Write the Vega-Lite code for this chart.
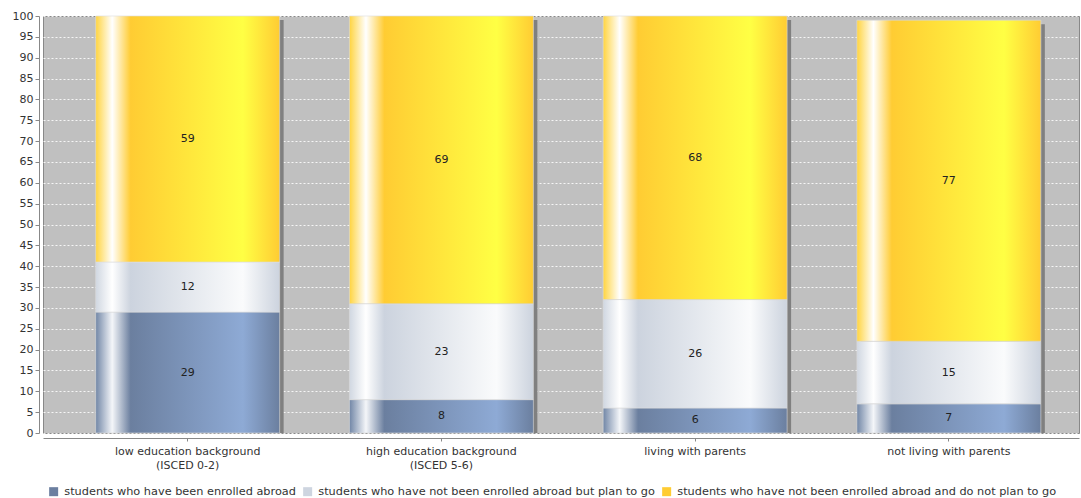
{
  "$schema": "https://vega.github.io/schema/vega-lite/v6.json",
  "autosize": "none",
  "width": 1036,
  "height": 417,
  "padding": {"left": 43, "top": 16, "right": 2, "bottom": 65},
  "background": "#ffffff",
  "title": {"text": "(in %)", "fontSize": 13, "fontWeight": "bold", "font": "DejaVu Sans", "frame": "group", "anchor": "middle", "offset": 11, "dx": -6, "color": "#000000"},
  "config": {
    "view": {"fill": "#c0c0c0", "stroke": "#888888", "strokeWidth": 1},
    "font": "DejaVu Sans",
    "axis": {"labelFont": "DejaVu Sans", "labelFontSize": 11, "labelColor": "#333333", "domainColor": "#888888", "tickColor": "#888888", "titleFont": "DejaVu Sans"},
    "legend": {"labelFont": "DejaVu Sans", "labelFontSize": 11.3, "labelColor": "#333333"}
  },
  "data": {
    "values": [
      {"group": "low education background (ISCED 0-2)", "series": "students who have been enrolled abroad", "value": 29},
      {"group": "low education background (ISCED 0-2)", "series": "students who have not been enrolled abroad but plan to go", "value": 12},
      {"group": "low education background (ISCED 0-2)", "series": "students who have not been enrolled abroad and do not plan to go", "value": 59},
      {"group": "high education background (ISCED 5-6)", "series": "students who have been enrolled abroad", "value": 8},
      {"group": "high education background (ISCED 5-6)", "series": "students who have not been enrolled abroad but plan to go", "value": 23},
      {"group": "high education background (ISCED 5-6)", "series": "students who have not been enrolled abroad and do not plan to go", "value": 69},
      {"group": "living with parents", "series": "students who have been enrolled abroad", "value": 6},
      {"group": "living with parents", "series": "students who have not been enrolled abroad but plan to go", "value": 26},
      {"group": "living with parents", "series": "students who have not been enrolled abroad and do not plan to go", "value": 68},
      {"group": "not living with parents", "series": "students who have been enrolled abroad", "value": 7},
      {"group": "not living with parents", "series": "students who have not been enrolled abroad but plan to go", "value": 15},
      {"group": "not living with parents", "series": "students who have not been enrolled abroad and do not plan to go", "value": 77}
    ]
  },
  "transform": [
    {"calculate": "indexof(['students who have been enrolled abroad','students who have not been enrolled abroad but plan to go','students who have not been enrolled abroad and do not plan to go'], datum.series)", "as": "ord"},
    {"stack": "value", "groupby": ["group"], "sort": [{"field": "ord", "order": "ascending"}], "as": ["v0", "v1"]},
    {"calculate": "(datum.v0 + datum.v1) / 2", "as": "mid"}
  ],
  "encoding": {
    "x": {
      "field": "group", "type": "nominal", "sort": null,
      "scale": {"paddingInner": 0.275, "paddingOuter": 0.179, "align": 0.58},
      "axis": {"title": null, "labelAngle": 0, "offset": 5, "tickSize": 3, "labelPadding": 4, "labelLineHeight": 14,
               "labelExpr": "split(replace(datum.value, ' (', '|('), '|')", "domainColor": "#888888"}
    }
  },
  "layer": [
    {
      "mark": {"type": "bar", "color": "#808080", "xOffset": 4, "yOffset": 4, "clip": true},
      "encoding": {
        "y": {"aggregate": "sum", "field": "value", "type": "quantitative",
              "scale": {"domain": [0, 100], "nice": false},
              "axis": {"title": null, "values": [0,5,10,15,20,25,30,35,40,45,50,55,60,65,70,75,80,85,90,95,100], "labelOverlap": false,
                       "offset": 4, "tickSize": 4, "labelPadding": 2, "grid": true, "gridColor": "#ffffff", "gridDash": [2, 2], "gridOpacity": 0.85}}
      }
    },
    {
      "mark": {"type": "bar", "stroke": "#dcdcdc", "strokeWidth": 0.6},
      "encoding": {
        "y": {"field": "v1", "type": "quantitative",
              "axis": {"title": null, "values": [0,5,10,15,20,25,30,35,40,45,50,55,60,65,70,75,80,85,90,95,100], "labelOverlap": false,
                       "offset": 4, "tickSize": 4, "labelPadding": 2, "grid": true, "gridColor": "#ffffff", "gridDash": [2, 2], "gridOpacity": 0.85}},
        "y2": {"field": "v0"},
        "fill": {
          "condition": [
            {"test": "datum.series === 'students who have been enrolled abroad'",
             "value": {"gradient": "linear", "x1": 0, "y1": 0, "x2": 1, "y2": 0,
                       "stops": [{"offset": 0, "color": "#7186a6"}, {"offset": 0.09, "color": "#f4f6f9"}, {"offset": 0.19, "color": "#6b7f9f"}, {"offset": 0.8, "color": "#8eaad5"}, {"offset": 1, "color": "#6b7f9f"}]}},
            {"test": "datum.series === 'students who have not been enrolled abroad but plan to go'",
             "value": {"gradient": "linear", "x1": 0, "y1": 0, "x2": 1, "y2": 0,
                       "stops": [{"offset": 0, "color": "#d0d7e1"}, {"offset": 0.09, "color": "#ffffff"}, {"offset": 0.19, "color": "#ccd3de"}, {"offset": 0.8, "color": "#fafbfc"}, {"offset": 1, "color": "#ccd3de"}]}}
          ],
          "value": {"gradient": "linear", "x1": 0, "y1": 0, "x2": 1, "y2": 0,
                    "stops": [{"offset": 0, "color": "#ffd440"}, {"offset": 0.09, "color": "#ffffff"}, {"offset": 0.19, "color": "#ffcc33"}, {"offset": 0.8, "color": "#ffff44"}, {"offset": 1, "color": "#ffcc33"}]}
        }
      }
    },
    {
      "mark": {"type": "bar", "opacity": 0},
      "encoding": {
        "y": {"field": "v1", "type": "quantitative",
              "axis": {"title": null, "values": [0,5,10,15,20,25,30,35,40,45,50,55,60,65,70,75,80,85,90,95,100], "labelOverlap": false,
                       "offset": 4, "tickSize": 4, "labelPadding": 2, "grid": true, "gridColor": "#ffffff", "gridDash": [2, 2], "gridOpacity": 0.85}},
        "y2": {"field": "v0"},
        "color": {
          "field": "series", "type": "nominal",
          "scale": {"domain": ["students who have been enrolled abroad", "students who have not been enrolled abroad but plan to go", "students who have not been enrolled abroad and do not plan to go"],
                    "range": ["#6b7fa0", "#ced5e0", "#ffcc33"]},
          "legend": {"title": null, "orient": "none", "legendX": 5, "legendY": 470, "direction": "horizontal",
                     "symbolType": "square", "symbolSize": 81, "symbolStrokeWidth": 0, "symbolOpacity": 1,
                     "labelOffset": 5, "columnPadding": 6, "padding": 0, "labelLimit": 600}
        }
      }
    },
    {
      "mark": {"type": "text", "fontSize": 11, "color": "#222222", "font": "DejaVu Sans", "baseline": "middle", "align": "center"},
      "encoding": {
        "y": {"field": "mid", "type": "quantitative",
              "axis": {"title": null, "values": [0,5,10,15,20,25,30,35,40,45,50,55,60,65,70,75,80,85,90,95,100], "labelOverlap": false,
                       "offset": 4, "tickSize": 4, "labelPadding": 2, "grid": true, "gridColor": "#ffffff", "gridDash": [2, 2], "gridOpacity": 0.85}},
        "text": {"field": "value", "type": "quantitative"}
      }
    }
  ]
}
